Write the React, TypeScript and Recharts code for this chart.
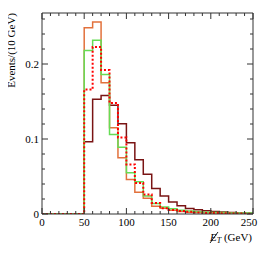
import React from "react";
import { LineChart, Line, XAxis, YAxis, Label } from "recharts";

// bin lower edges (GeV), 10 GeV bins from 0 to 250
const EDGES = [0, 10, 20, 30, 40, 50, 60, 70, 80, 90, 100, 110, 120, 130, 140, 150, 160, 170, 180, 190, 200, 210, 220, 230, 240, 250];

// bin contents (25 bins)
const DARK = [0, 0, 0, 0, 0, 0.0965, 0.153, 0.158, 0.145, 0.1205, 0.095, 0.0725, 0.053, 0.034, 0.024, 0.016, 0.011, 0.0075, 0.0058, 0.0045, 0.0035, 0.0028, 0.002, 0.0015, 0.001];
const ORANGE = [0, 0, 0, 0, 0, 0.2485, 0.256, 0.175, 0.115, 0.075, 0.046, 0.029, 0.021, 0.0105, 0.0078, 0.005, 0.0035, 0.0025, 0.002, 0.0015, 0.0012, 0.001, 0.0008, 0.0006, 0.0005];
const GREEN = [0, 0, 0, 0, 0, 0.218, 0.2316, 0.186, 0.106, 0.089, 0.055, 0.043, 0.024, 0.014, 0.0093, 0.007, 0.005, 0.004, 0.003, 0.0025, 0.002, 0.002, 0.0015, 0.0015, 0.0012];
const RED = [0, 0, 0, 0, 0, 0.166, 0.2227, 0.192, 0.148, 0.102, 0.066, 0.0415, 0.026, 0.0147, 0.0078, 0.0055, 0.004, 0.003, 0.002, 0.0015, 0.0012, 0.001, 0.0008, 0.0006, 0.0005];

const X_TICKS = [0, 10, 20, 30, 40, 50, 60, 70, 80, 90, 100, 110, 120, 130, 140, 150, 160, 170, 180, 190, 200, 210, 220, 230, 240, 250];
const Y_TICKS = [0, 0.02, 0.04, 0.06, 0.08, 0.1, 0.12, 0.14, 0.16, 0.18, 0.2, 0.22, 0.24, 0.26];

const data = EDGES.map((x, i) => {
  const j = Math.min(i, DARK.length - 1);
  return { x, dark: DARK[j], orange: ORANGE[j], green: GREEN[j], red: RED[j] };
});

const AX = "#333";
const FONT = "'Liberation Serif', 'DejaVu Serif', serif";
const X_MAX = 250;

const isMajorX = (v: number) => v % 50 === 0;
const isMajorY = (v: number) => Math.abs(v * 10 - Math.round(v * 10)) < 1e-6;
const fmtY = (v: number) => (v === 0 ? "0" : String(Math.round(v * 10) / 10));

const BottomTick = (p: any) => {
  const v = p.payload.value;
  const m = isMajorX(v);
  const lx = v === X_MAX ? p.x - 4 : p.x;
  return (
    <g>
      <line x1={p.x} x2={p.x} y1={p.y} y2={p.y - (m ? 6 : 3)} stroke={AX} strokeWidth={1} />
      {m && (
        <text x={lx} y={p.y + 12} textAnchor="middle" fontFamily={FONT} fontSize={11} fill="#000">
          {v}
        </text>
      )}
    </g>
  );
};
const TopTick = (p: any) => {
  const v = p.payload.value;
  const m = isMajorX(v);
  return <line x1={p.x} x2={p.x} y1={p.y} y2={p.y + (m ? 6 : 3)} stroke={AX} strokeWidth={1} />;
};
const LeftTick = (p: any) => {
  const v = p.payload.value;
  const m = isMajorY(v);
  return (
    <g>
      <line x1={p.x} x2={p.x + (m ? 6 : 3)} y1={p.y} y2={p.y} stroke={AX} strokeWidth={1} />
      {m && (
        <text x={p.x - 3} y={p.y + 4} textAnchor="end" fontFamily={FONT} fontSize={11} fill="#000">
          {fmtY(v)}
        </text>
      )}
    </g>
  );
};
const RightTick = (p: any) => {
  const v = p.payload.value;
  const m = isMajorY(v);
  return <line x1={p.x} x2={p.x - (m ? 6 : 3)} y1={p.y} y2={p.y} stroke={AX} strokeWidth={1} />;
};

const YTitle = (props: any) => {
  const vb = props.viewBox;
  const x = 15;
  const y = vb.y;
  return (
    <text x={x} y={y} transform={`rotate(-90 ${x} ${y})`} textAnchor="end" fontFamily={FONT} fontSize={11} fill="#000">
      Events/(10 GeV)
    </text>
  );
};
const XTitle = (props: any) => {
  const vb = props.viewBox;
  const xr = vb.x + vb.width - 1;
  const y = vb.y + 27;
  return (
    <g>
      <text x={xr} y={y} textAnchor="end" fontFamily={FONT} fontSize={11} fill="#000">
        <tspan fontStyle="italic">E</tspan>
        <tspan fontStyle="italic" fontSize={8} dy={2}>T</tspan>
        <tspan dy={-2}> (GeV)</tspan>
      </text>
      <line x1={xr - 42} y1={y + 2} x2={xr - 34} y2={y - 9} stroke="#000" strokeWidth={0.9} />
    </g>
  );
};

export default function App() {
  return (
    <div style={{ width: 266, height: 239, marginLeft: -8 }}>
      <LineChart
        width={266}
        height={239}
        data={data}
        margin={{ top: 4, right: 12, left: 8, bottom: 0 }}
        style={{ overflow: "visible" }}
      >
        <XAxis
          dataKey="x"
          type="number"
          domain={[0, 250]}
          ticks={X_TICKS}
          interval={0}
          tickSize={0}
          tickMargin={0}
          tick={BottomTick}
          axisLine={{ stroke: AX }}
          height={33}
        >
          <Label content={XTitle} />
        </XAxis>
        <XAxis
          xAxisId="top"
          orientation="top"
          dataKey="x"
          type="number"
          domain={[0, 250]}
          ticks={X_TICKS}
          interval={0}
          tickSize={0}
          tickMargin={0}
          tick={TopTick}
          axisLine={{ stroke: AX }}
          height={1}
        />
        <YAxis
          type="number"
          domain={[0, 0.268]}
          allowDataOverflow
          ticks={Y_TICKS}
          interval={0}
          tickSize={0}
          tickMargin={0}
          tick={LeftTick}
          axisLine={{ stroke: AX }}
          width={34}
        >
          <Label content={YTitle} />
        </YAxis>
        <YAxis
          yAxisId="right"
          orientation="right"
          type="number"
          domain={[0, 0.268]}
          allowDataOverflow
          ticks={Y_TICKS}
          interval={0}
          tickSize={0}
          tickMargin={0}
          tick={RightTick}
          axisLine={{ stroke: AX }}
          width={1}
        />
        <Line type="stepAfter" dataKey="dark" stroke="#7a1414" strokeWidth={1.5} dot={false} isAnimationActive={false} />
        <Line type="stepAfter" dataKey="orange" stroke="#e2713c" strokeWidth={1.5} dot={false} isAnimationActive={false} />
        <Line type="stepAfter" dataKey="green" stroke="#66dd55" strokeWidth={1.5} dot={false} isAnimationActive={false} />
        <Line type="stepAfter" dataKey="red" stroke="#ff0000" strokeWidth={2} strokeDasharray="2 2" dot={false} isAnimationActive={false} />
      </LineChart>
    </div>
  );
}
